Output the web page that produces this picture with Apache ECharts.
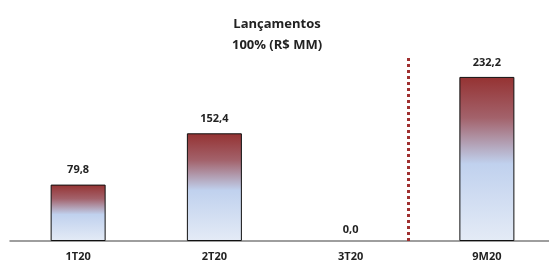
<!DOCTYPE html>
<html>
<head>
<meta charset="utf-8">
<script src="https://cdn.jsdelivr.net/npm/echarts@6/dist/echarts.min.js"></script>
<style>
  html, body { margin: 0; padding: 0; background: #fff; }
  #chart { width: 549px; height: 261px; }
</style>
</head>
<body>
<div id="chart"></div>
<script>
const categories = ['1T20', '2T20', '3T20', '9M20']
const values = [79.8, 152.4, 0.0, 232.2]
const dividerAt = [2.92]  // position between 3T20 and 9M20, on the hidden 0..4 axis

const fmt = v => v.toFixed(1).replace('.', ',')

const chart = echarts.init(document.getElementById('chart'))

const barFill = new echarts.graphic.LinearGradient(0, 0, 0, 1, [
  { offset: 0, color: '#953232' },
  { offset: 0.25, color: '#a3626b' },
  { offset: 0.42, color: '#b4a6bb' },
  { offset: 0.53, color: '#c0d1ee' },
  { offset: 1, color: '#e4ebf6' }
])

chart.setOption({
  animation: false,
  textStyle: { fontFamily: 'Open Sans' },
  title: {
    text: 'Lançamentos\n100% (R$ MM)',
    left: 272,
    top: 9,
    textAlign: 'center',
    textStyle: { fontSize: 13, fontWeight: 'bold', color: '#222', lineHeight: 21 }
  },
  grid: { left: 10, width: 545, top: 29, bottom: 20, outerBoundsMode: 'none', containLabel: false },
  xAxis: [{
    type: 'category',
    data: categories,
    axisLine: { lineStyle: { color: '#7f7f7f', width: 1.5 } },
    axisTick: { show: false },
    axisLabel: { fontSize: 11, fontWeight: 'bold', color: '#222', margin: 10 }
  }, {
    type: 'value',
    min: 0,
    max: 4,
    show: false
  }],
  yAxis: {
    type: 'value',
    min: 0,
    max: 300,
    show: false
  },
  series: [{
    type: 'bar',
    data: values.map(v => v === 0
      ? { value: v, itemStyle: { borderWidth: 0 }, label: { distance: 6 } }
      : v),
    barWidth: 55,
    itemStyle: { color: barFill, borderColor: '#111', borderWidth: 1 },
    label: {
      show: true,
      position: 'top',
      distance: 9,
      formatter: p => fmt(p.value),
      fontSize: 11,
      fontWeight: 'bold',
      color: '#222'
    }
  }, {
    type: 'line',
    xAxisIndex: 1,
    data: [],
    markLine: {
      symbol: 'none',
      silent: true,
      label: { show: false },
      lineStyle: { color: '#a03030', width: 3, type: [3, 3] },
      data: [[
        { coord: [dividerAt[0], 0] },
        { coord: [dividerAt[0], 262] }
      ]]
    }
  }]
})
</script>
</body>
</html>
